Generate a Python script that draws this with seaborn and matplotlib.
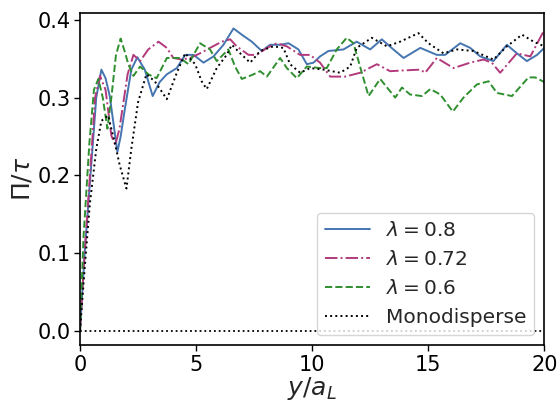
"""Pressure profile Pi/tau vs distance y/a_L for several size ratios."""

import matplotlib

matplotlib.use("Agg")
import matplotlib.pyplot as plt
import pandas as pd
import seaborn as sns

x_08 = [0.0, 0.2, 0.45, 0.7, 0.92, 1.1, 1.28, 1.45, 1.61, 1.75, 1.93, 2.21, 2.47, 2.79, 3.13, 3.43,
        3.74, 4.17, 4.53, 4.89, 5.32, 5.75, 6.18, 6.61, 6.97, 7.4, 7.83, 8.19, 8.62, 8.98, 9.41,
        9.77, 10.06, 10.34, 10.7, 11.35, 11.92, 12.5, 13.0, 13.5, 13.94, 14.66, 15.37, 15.73,
        16.38, 16.81, 17.24, 17.81, 18.39, 18.82, 19.25, 19.69, 20.0]
y_08 = [0.0, 0.1, 0.2, 0.3, 0.336, 0.325, 0.302, 0.265, 0.23, 0.25, 0.285, 0.336, 0.352, 0.336,
        0.302, 0.32, 0.33, 0.338, 0.355, 0.355, 0.345, 0.353, 0.368, 0.389, 0.381, 0.372, 0.36,
        0.368, 0.368, 0.37, 0.362, 0.343, 0.345, 0.353, 0.36, 0.362, 0.372, 0.362, 0.375, 0.362,
        0.351, 0.364, 0.355, 0.355, 0.37, 0.364, 0.353, 0.347, 0.368, 0.357, 0.347, 0.355, 0.364]

x_072 = [0.0, 0.2, 0.45, 0.65, 0.86, 1.1, 1.35, 1.52, 1.7, 1.87, 2.05, 2.3, 2.59, 2.94, 3.38, 3.74,
         4.02, 4.38, 4.74, 5.17, 5.6, 6.11, 6.47, 6.75, 7.26, 7.61, 8.05, 8.48, 8.91, 9.48, 9.91,
         10.34, 10.78, 11.42, 12.07, 12.79, 13.36, 13.94, 14.66, 14.87, 15.37, 16.09, 16.81,
         17.38, 17.74, 18.1, 18.82, 19.4, 20.0]
y_072 = [0.0, 0.1, 0.21, 0.3, 0.328, 0.31, 0.251, 0.239, 0.26, 0.294, 0.33, 0.355, 0.347, 0.362,
         0.372, 0.364, 0.351, 0.349, 0.351, 0.357, 0.364, 0.372, 0.375, 0.366, 0.355, 0.355,
         0.364, 0.37, 0.366, 0.355, 0.355, 0.345, 0.327, 0.327, 0.332, 0.343, 0.334, 0.335,
         0.336, 0.332, 0.351, 0.338, 0.345, 0.349, 0.345, 0.332, 0.357, 0.353, 0.387]

x_06 = [0.0, 0.15, 0.4, 0.6, 0.79, 0.98, 1.18, 1.35, 1.55, 1.75, 1.92, 2.08, 2.3, 2.59, 2.94, 3.3,
        3.74, 4.31, 4.67, 5.17, 5.6, 5.89, 6.39, 6.68, 6.97, 7.4, 7.76, 8.05, 8.62, 8.91, 9.34,
        9.77, 10.34, 10.63, 11.06, 11.49, 11.78, 12.14, 12.43, 12.93, 13.58, 13.87, 14.22,
        14.73, 15.09, 15.52, 16.06, 16.52, 17.1, 17.6, 17.96, 18.61, 19.32, 19.61, 20.0]
y_06 = [0.0, 0.12, 0.24, 0.31, 0.324, 0.3, 0.26, 0.3, 0.355, 0.376, 0.36, 0.343, 0.328, 0.34,
        0.33, 0.325, 0.351, 0.351, 0.343, 0.37, 0.362, 0.347, 0.362, 0.34, 0.324, 0.329, 0.334,
        0.327, 0.351, 0.338, 0.325, 0.34, 0.338, 0.338, 0.362, 0.377, 0.37, 0.332, 0.302, 0.324,
        0.3, 0.313, 0.304, 0.302, 0.311, 0.304, 0.282, 0.3, 0.317, 0.321, 0.306, 0.302, 0.326,
        0.326, 0.32]

x_mono = [0.0, 0.2, 0.42, 0.7, 0.92, 1.21, 1.49, 1.71, 2.0, 2.21, 2.5, 2.86, 3.22, 3.74, 4.17,
          4.53, 4.96, 5.24, 5.46, 5.89, 6.32, 6.54, 6.9, 7.33, 7.76, 8.33, 8.76, 9.05, 9.48,
          9.91, 10.49, 11.21, 11.64, 11.92, 12.57, 13.22, 13.79, 14.58, 15.01, 15.66, 16.24,
          16.95, 17.81, 18.39, 19.04, 19.54, 20.0]
y_mono = [0.0, 0.08, 0.162, 0.234, 0.27, 0.277, 0.243, 0.213, 0.183, 0.234, 0.294, 0.33, 0.321,
          0.298, 0.332, 0.357, 0.343, 0.321, 0.311, 0.338, 0.355, 0.368, 0.357, 0.345, 0.36,
          0.366, 0.364, 0.343, 0.332, 0.338, 0.336, 0.332, 0.34, 0.364, 0.377, 0.366, 0.372,
          0.383, 0.37, 0.357, 0.362, 0.36, 0.349, 0.366, 0.381, 0.372, 0.366]

x_zero = [0.0, 20.0]
y_zero = [0.0, 0.0]

labels = [r"$\lambda = 0.8$", r"$\lambda = 0.72$", r"$\lambda = 0.6$", "Monodisperse"]


def main() -> None:
    sns.set_style("ticks")
    plt.rcParams["font.family"] = ["DejaVu Sans"]
    plt.rcParams["mathtext.fontset"] = "dejavusans"

    fig = plt.figure(figsize=(5.58, 4.04), dpi=100)
    ax = fig.add_axes([0.1434, 0.145, 0.832, 0.823])

    series = [
        (x_08, y_08, labels[0], "#4575b0", "-"),
        (x_072, y_072, labels[1], "#b23a7c", "-."),
        (x_06, y_06, labels[2], "#2f8f2f", "--"),
        (x_mono, y_mono, labels[3], "black", ":"),
    ]
    for xs, ys, lab, col, ls in series:
        df = pd.DataFrame({"x": xs, "y": ys})
        sns.lineplot(data=df, x="x", y="y", ax=ax, color=col, linestyle=ls,
                     linewidth=1.4, label=lab, sort=False)

    zero_df = pd.DataFrame({"x": x_zero, "y": y_zero})
    sns.lineplot(data=zero_df, x="x", y="y", ax=ax, color="black", linestyle=":",
                 linewidth=1.3, legend=False)

    ax.set_xlim(0, 20)
    ax.set_ylim(-0.019, 0.409)
    ax.set_xticks([0, 5, 10, 15, 20])
    ax.set_yticks([0.0, 0.1, 0.2, 0.3, 0.4])
    ax.tick_params(labelsize=15, colors="black", width=1, length=4, pad=3)
    for sp in ax.spines.values():
        sp.set_color("black")
        sp.set_linewidth(1.2)
    ax.set_xlabel(r"$y/a_L$", fontsize=18, labelpad=0)
    ax.set_ylabel(r"$\Pi/\tau$", fontsize=18, labelpad=2)
    ax.legend(loc="lower right", fontsize=14.5, handlelength=2.2)

    fig.savefig("out.png", dpi=100)
    plt.close(fig)


if __name__ == "__main__":
    main()
